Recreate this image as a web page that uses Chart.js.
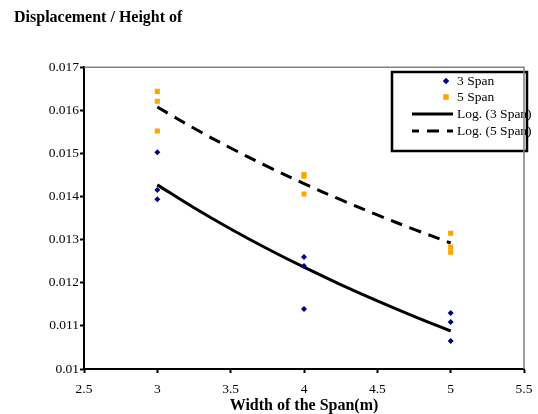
<!DOCTYPE html>
<html>
<head>
<meta charset="utf-8">
<script src="https://cdn.jsdelivr.net/npm/chart.js@4/dist/chart.umd.min.js"></script>
<style>
  body { margin: 0; background: #fff; }
</style>
</head>
<body>
<canvas id="graphCanvas" width="538" height="414"></canvas>
<script>
// dati
var spanWidth = [3, 3, 3, 4, 4, 4, 5, 5, 5];
var span3 = [0.01503, 0.01415, 0.01394, 0.01260, 0.01239, 0.01139, 0.01130, 0.01109, 0.01065];
var span5 = [0.01644, 0.01621, 0.01552, 0.01451, 0.01447, 0.01406, 0.01315, 0.01283, 0.01271];
var trendX = [3, 3.25, 3.5, 3.75, 4, 4.25, 4.5, 4.75, 5];
var labels = ["3 Span", "5 Span", "Log. (3 Span)", "Log. (5 Span)"];

// linea di tendenza logaritmica y = a ln(x) + b
function logFit(xs, ys) {
    var n = xs.length, sx = 0, sy = 0, sxx = 0, sxy = 0;
    for (var i = 0; i < n; i++) {
        var lx = Math.log(xs[i]);
        sx += lx; sy += ys[i]; sxx += lx * lx; sxy += lx * ys[i];
    }
    var a = (n * sxy - sx * sy) / (n * sxx - sx * sx);
    var b = (sy - a * sx) / n;
    return trendX.map(function (x) { return { x: x, y: a * Math.log(x) + b }; });
}

function points(ys) {
    return ys.map(function (y, i) { return { x: spanWidth[i], y: y }; });
}

function fmt(v) { return String(+v.toFixed(3)); }

var serif = "'Liberation Serif', 'Times New Roman', serif";
Chart.defaults.font.family = serif;
Chart.defaults.color = "#000";

var boxLegend = {
    id: "boxLegend",
    afterDatasetsDraw: function (chart) {
        var ctx = chart.ctx;
        var ds = chart.data.datasets;
        ctx.save();
        ctx.fillStyle = "#fff";
        ctx.fillRect(392, 72, 135, 79);
        ctx.lineWidth = 2.5;
        ctx.strokeStyle = "#000";
        ctx.strokeRect(392, 72, 135, 79);
        var rows = [81, 97, 114, 131];
        ctx.font = "13.5px " + serif;
        ctx.textBaseline = "middle";
        for (var i = 0; i < ds.length; i++) {
            var y = rows[i];
            if (ds[i].showLine) {
                ctx.beginPath();
                ctx.setLineDash(ds[i].borderDash || []);
                ctx.lineDashOffset = 5;
                ctx.lineWidth = ds[i].borderWidth;
                ctx.strokeStyle = ds[i].borderColor;
                ctx.moveTo(412, y);
                ctx.lineTo(453, y);
                ctx.stroke();
                ctx.setLineDash([]);
            } else {
                ctx.fillStyle = ds[i].backgroundColor;
                Chart.helpers.drawPoint(ctx, { pointStyle: ds[i].pointStyle, radius: ds[i].pointRadius, borderWidth: 0 }, 446, y);
                ctx.fill();
            }
            ctx.fillStyle = "#000";
            ctx.fillText(ds[i].label, 457, y);
        }
        ctx.restore();
    },
    afterDraw: function (chart) {
        var a = chart.chartArea, ctx = chart.ctx;
        ctx.save();
        ctx.strokeStyle = "#808080";
        ctx.lineWidth = 1.5;
        ctx.beginPath();
        ctx.moveTo(a.left, a.top);
        ctx.lineTo(a.right, a.top);
        ctx.lineTo(a.right, a.bottom);
        ctx.stroke();
        ctx.restore();
    }
};

var graphTarget = document.getElementById("graphCanvas");

var scatter = new Chart(graphTarget, {
    type: "scatter",
    data: {
        datasets: [
            {
                label: labels[0],
                data: points(span3),
                pointStyle: "rectRot",
                pointRadius: 3,
                backgroundColor: "#000080",
                borderWidth: 0
            },
            {
                label: labels[1],
                data: points(span5),
                pointStyle: "rect",
                pointRadius: 3.6,
                backgroundColor: "#FFA500",
                borderWidth: 0
            },
            {
                label: labels[2],
                data: logFit(spanWidth, span3),
                showLine: true,
                pointRadius: 0,
                borderColor: "#000",
                borderWidth: 3,
                tension: 0.4
            },
            {
                label: labels[3],
                data: logFit(spanWidth, span5),
                showLine: true,
                pointRadius: 0,
                borderColor: "#000",
                borderWidth: 3,
                borderDash: [12, 8],
                tension: 0.4
            }
        ]
    },
    options: {
        responsive: false,
        animation: false,
        layout: { padding: { left: 14, top: 0, right: 14, bottom: 0 } },
        plugins: {
            legend: { display: false },
            tooltip: { enabled: false },
            title: {
                display: true,
                text: "Displacement / Height of",
                align: "start",
                color: "#000",
                font: { size: 16, weight: "bold", family: serif, lineHeight: 1.2 },
                padding: { top: 8, bottom: 40 }
            }
        },
        scales: {
            x: {
                type: "linear",
                min: 2.5,
                max: 5.5,
                afterFit: function (s) { s.height = 45; s.paddingLeft = 0; s.paddingRight = 0; },
                ticks: { stepSize: 0.5, padding: 8, font: { size: 13.5 }, callback: fmt, maxRotation: 0 },
                grid: { drawOnChartArea: false, tickLength: 4, tickWidth: 2, tickColor: "#000" },
                border: { color: "#000", width: 2 },
                title: {
                    display: true,
                    text: "Width of the Span(m)",
                    color: "#000",
                    font: { size: 16, weight: "bold", lineHeight: 1 },
                    padding: 0
                }
            },
            y: {
                min: 0.01,
                max: 0.017,
                afterFit: function (s) { s.width = 70; s.paddingTop = 0; s.paddingBottom = 0; },
                ticks: { stepSize: 0.001, padding: 1, font: { size: 13.5 }, callback: fmt },
                grid: { drawOnChartArea: false, tickLength: 4, tickWidth: 2, tickColor: "#000" },
                border: { color: "#000", width: 2 }
            }
        }
    },
    plugins: [boxLegend]
});
</script>
</body>
</html>
